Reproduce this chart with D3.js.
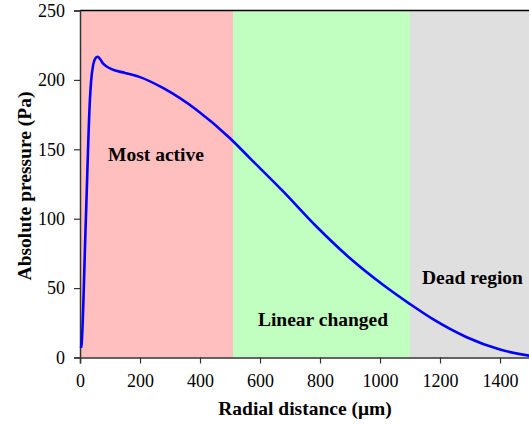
<!DOCTYPE html>
<html>
<head>
<meta charset="utf-8">
<script src="https://cdn.jsdelivr.net/npm/d3@7"></script>
<style>
  body { margin: 0; background: #fff; }
  svg text { font-family: "Liberation Serif", "Times New Roman", "DejaVu Serif", serif; }
</style>
</head>
<body>
<script>
var w = 529;
var h = 424;

// pressure profile along radius
var radius = [3, 5, 19, 33, 37, 44, 51, 59, 67, 78, 90, 105, 150, 200, 278, 389, 500, 567, 678, 789, 900, 1011, 1100, 1178, 1289, 1400, 1500];
var pressure = [7, 9, 96, 185.5, 199, 211, 215.5, 216.7, 215, 211.5, 209.5, 207.8, 205, 202, 194, 178.3, 158, 143.5, 119.5, 94.2, 71.5, 52.2, 38.5, 27.4, 14.6, 5.7, 1.2];

// shaded zones
var zoneNames = ["Most active", "Linear changed", "Dead region"];
var zoneStart = [0, 510, 1100];
var zoneEnd = [510, 1100, 1500];
var zoneColors = ["#ffbfbf", "#c1ffc1", "#dfdfdf"];

var xTicks = [0, 200, 400, 600, 800, 1000, 1200, 1400];
var yTicks = [0, 50, 100, 150, 200, 250];

var svg = d3.select("body")
            .append("svg")
              .attr("width", w)
              .attr("height", h);

var x = d3.scaleLinear().domain([0, 1500]).range([80, 530]);
var y = d3.scaleLinear().domain([0, 250]).range([357.5, 10.5]);

svg.selectAll("rect.zone")
  .data(zoneNames)
  .enter()
  .append("rect")
    .attr("class", "zone")
    .attr("x", function(d, i) { return x(zoneStart[i]); })
    .attr("y", y(250))
    .attr("width", function(d, i) { return x(zoneEnd[i]) - x(zoneStart[i]); })
    .attr("height", y(0) - y(250))
    .attr("fill", function(d, i) { return zoneColors[i]; });

// top frame line
svg.append("line")
  .attr("x1", x(0)).attr("x2", x(1500))
  .attr("y1", y(250)).attr("y2", y(250))
  .attr("stroke", "#000")
  .attr("stroke-width", 1.5);

var xAxis = svg.append("g")
  .attr("transform", "translate(0," + y(0) + ")")
  .call(d3.axisBottom(x).tickValues(xTicks).tickFormat(d3.format("d")).tickSize(6).tickPadding(11));

var yAxis = svg.append("g")
  .attr("transform", "translate(" + x(0) + ",0)")
  .call(d3.axisLeft(y).tickValues(yTicks).tickFormat(d3.format("d")).tickSize(6).tickPadding(9));

[xAxis, yAxis].forEach(function(a) {
  a.attr("font-family", null);
  a.select(".domain").attr("stroke", "#333").attr("stroke-width", 1.5);
  a.selectAll(".tick line").attr("stroke", "#333").attr("stroke-width", 1.2);
  a.selectAll(".tick text")
    .style("font-size", "18px")
    .attr("fill", "#000");
});

var line = d3.line()
  .x(function(d, i) { return x(radius[i]); })
  .y(function(d) { return y(d); })
  .curve(d3.curveMonotoneX);

svg.append("path")
  .datum(pressure)
  .attr("d", line)
  .attr("fill", "none")
  .attr("stroke", "#0000ff")
  .attr("stroke-width", 2.6);

// zone labels
var labelPos = [[156, 161, "middle"], [323, 326, "middle"], [422, 284, "start"]];
svg.selectAll("text.zlabel")
  .data(zoneNames)
  .enter()
  .append("text")
    .attr("class", "zlabel")
    .text(function(d) { return d; })
    .attr("x", function(d, i) { return labelPos[i][0]; })
    .attr("y", function(d, i) { return labelPos[i][1]; })
    .attr("text-anchor", function(d, i) { return labelPos[i][2]; })
    .style("font-weight", "bold")
    .style("font-size", "19.5px");

svg.append("text")
  .text("Radial distance (\u03bcm)")
  .attr("x", 305)
  .attr("y", 415)
  .attr("text-anchor", "middle")
  .style("font-weight", "bold")
  .style("font-size", "19.5px");

svg.append("text")
  .text("Absolute pressure (Pa)")
  .attr("transform", "translate(31,186) rotate(-90)")
  .attr("text-anchor", "middle")
  .style("font-weight", "bold")
  .style("font-size", "19.5px");
</script>
</body>
</html>
